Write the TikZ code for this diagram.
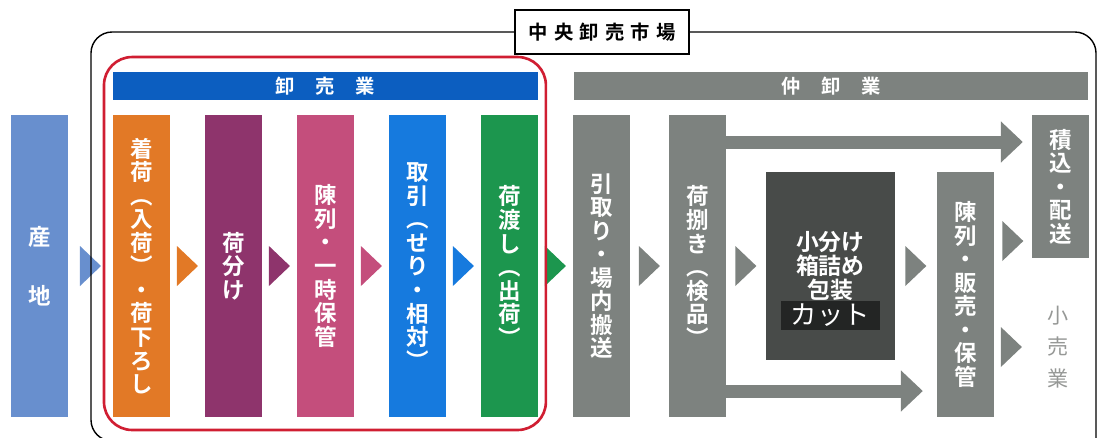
\documentclass[tikz,border=0pt]{standalone}
\usepackage{fontspec}
\setmainfont{Noto Sans CJK JP}[BoldFont={Noto Sans CJK JP Bold}]
\usetikzlibrary{shapes.geometric, positioning, calc, arrows.meta}
\definecolor{sanchiblue}{RGB}{104,143,206}
\definecolor{orange1}{RGB}{226,121,38}
\definecolor{purple1}{RGB}{142,52,108}
\definecolor{pink1}{RGB}{196,78,124}
\definecolor{blue1}{RGB}{22,122,222}
\definecolor{green1}{RGB}{28,150,78}
\definecolor{hdrblue}{RGB}{12,94,192}
\definecolor{grayband}{RGB}{125,130,127}
\definecolor{darkbox}{RGB}{72,75,73}
\definecolor{cutfill}{RGB}{35,37,36}
\definecolor{kourigray}{RGB}{150,152,150}
\definecolor{redframe}{RGB}{208,30,50}
\tikzstyle{col} = [rectangle, minimum width=1.14cm, minimum height=6.04cm, inner sep=0pt, text=white, align=center, font=\bfseries\fontsize{12.8}{13.4}\selectfont]
\tikzstyle{hdr} = [rectangle, minimum height=0.56cm, inner sep=0pt, text=white, font=\bfseries\fontsize{11}{12}\selectfont]
\tikzstyle{bigarrow} = [draw=grayband, line width=0.26cm, -{Triangle[length=0.44cm, width=0.8cm]}]

\begin{document}
\begin{tikzpicture}[x=0.02cm, y=-0.02cm,
        every node/.style={outer sep=0pt},
        tri/.pic={\fill (-10.5,-20) -- (10.5,0) -- (-10.5,20) -- cycle;}
    ]
        \useasboundingbox (0,0) rectangle (1098,437);

        % Production area
        \node[col, fill=sanchiblue] (sanchi) at (39.5,266) {産\\[20pt]地};

        % Wholesaler columns
        \node[col, fill=orange1, right=0.9cm of sanchi] (chakuni) {着\\荷\\︵\\入\\荷\\︶\\・\\荷\\下\\ろ\\し};
        \node[col, fill=purple1, right=0.7cm of chakuni] (niwake) {荷\\分\\け};
        \node[col, fill=pink1, right=0.7cm of niwake] (chinretsu) {陳\\列\\・\\一\\時\\保\\管};
        \node[col, fill=blue1, right=0.7cm of chinretsu] (torihiki) {取\\引\\︵\\せ\\り\\・\\相\\対\\︶};
        \node[col, fill=green1, right=0.7cm of torihiki] (niwatashi) {荷\\渡\\し\\︵\\出\\荷\\︶};

        % Intermediate wholesaler columns
        \node[col, fill=grayband, right=0.7cm of niwatashi] (hikitori) {引\\取\\り\\・\\場\\内\\搬\\送};
        \node[col, fill=grayband, right=0.78cm of hikitori] (nisabaki) {荷\\捌\\き\\︵\\検\\品\\︶};
        \node[fill=darkbox, minimum width=2.58cm, minimum height=3.78cm, text=white, align=center, font=\bfseries\fontsize{13}{13.4}\selectfont, right=0.8cm of nisabaki] (kobake) {小分け\\箱詰め\\包装};
        \node[fill=cutfill, minimum width=1.98cm, minimum height=0.6cm, inner sep=0pt, text=white, font=\fontsize{15}{15}\selectfont, above=0.6cm of kobake.south] (cut) {カット};
        \node[col, fill=grayband, minimum height=4.92cm, right=0.84cm of kobake.north east, anchor=north west] (hanbai) {陳\\列\\・\\販\\売\\・\\保\\管};
        \node[col, fill=grayband, minimum height=2.86cm, anchor=north west] (tsumikomi) at ($(hanbai.north east |- sanchi.north)+(38,0)$) {積\\込\\・\\配\\送};
        \node[text=kourigray, align=center, inner sep=2pt, font=\fontsize{12}{18.1}\selectfont] (kouri) at (1058,347) {小\\売\\業};

        % Headers
        \node[hdr, fill=hdrblue, minimum width=8.5cm, anchor=south] (oroshi) at ($(chakuni.north west)!0.5!(niwatashi.north east)+(0,-15)$) {卸\hspace{11.7pt}売\hspace{11.7pt}業};
        \node[hdr, fill=grayband, minimum width=10.28cm, anchor=south] (nakaoroshi) at ($(hikitori.north west)!0.5!(tsumikomi.north east)+(0,-15)$) {仲\hspace{11.7pt}卸\hspace{11.7pt}業};
        \node[draw, line width=0.8pt, fill=white, minimum width=3.48cm, minimum height=0.88cm, inner sep=0pt, font=\bfseries\fontsize{11}{13}\selectfont] (ichiba) at (602,32) {中\kern3.5pt 央\kern3.5pt 卸\kern3.5pt 売\kern3.5pt 市\kern3.5pt 場};

        % Small arrows
        \path (sanchi) -- pic[fill=sanchiblue]{tri} (chakuni);
        \path (chakuni) -- pic[fill=orange1]{tri} (niwake);
        \path (niwake) -- pic[fill=purple1]{tri} (chinretsu);
        \path (chinretsu) -- pic[fill=pink1]{tri} (torihiki);
        \path (torihiki) -- pic[fill=blue1]{tri} (niwatashi);
        \path (niwatashi) -- pic[fill=green1]{tri} (hikitori);
        \path (hikitori) -- pic[fill=grayband]{tri} (nisabaki);
        \path (nisabaki) -- pic[fill=grayband]{tri} (kobake);
        \path (kobake.east) -- pic[fill=grayband]{tri} (kobake.east -| hanbai.west);
        \coordinate (tsa) at ([yshift=0.34cm]tsumikomi.south west);
        \path (hanbai.east |- tsa) -- pic[fill=grayband]{tri} (tsa);
        \path (hanbai.east |- kouri) -- pic[fill=grayband, pos=0.35]{tri} (kouri.west);

        % Big arrows
        \coordinate (topy) at (0,142);
        \coordinate (boty) at (0,391);
        \draw[bigarrow, shorten >=0.18cm] (nisabaki.east |- topy) -- (tsumikomi.west |- topy);
        \draw[bigarrow, shorten >=0.28cm] (nisabaki.east |- boty) -- (hanbai.west |- boty);

        % Frames
        \draw[draw=redframe, line width=1.5pt, rounded corners=16] ($(oroshi.north west)+(-9,-15)$) rectangle ($(niwatashi.south east)+(8,13)$);
        \draw[line width=0.8pt, rounded corners=12] (ichiba.west) -| (91,441) -- (300,441);
        \draw[line width=0.8pt, rounded corners=12] (ichiba.east) -| (1096,441);
\end{tikzpicture}
\end{document}
